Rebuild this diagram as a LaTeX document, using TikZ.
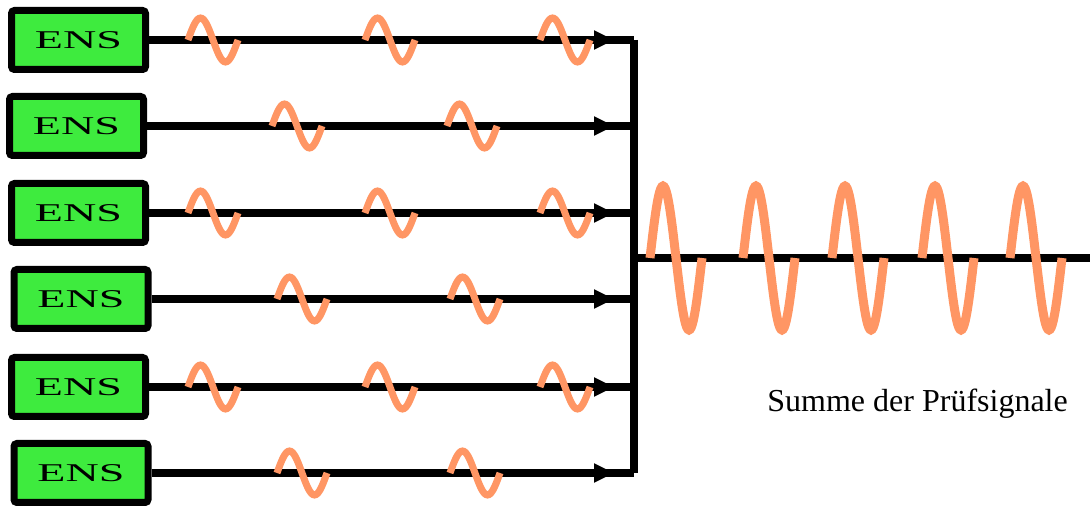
\documentclass[tikz,border=0pt]{standalone}
\usepackage{fontspec}
\setmainfont{Liberation Serif}
\usetikzlibrary{arrows.meta}
\definecolor{ensgreen}{RGB}{62,235,62}
\definecolor{wavecol}{RGB}{255,150,100}

\begin{document}
\begin{tikzpicture}[x=0.5pt,y=-0.5pt,
  ens/.style={rectangle, draw, line width=3.5pt, fill=ensgreen, rounded corners=1.5pt, minimum width=67pt, minimum height=29.5pt, inner sep=0pt, font=\fontsize{12.8}{14}\selectfont},
  wire/.style={line width=3.6pt},
  sig/.style={wire, -{Triangle[length=10pt,width=9pt]}},
  wavy/.style={draw=wavecol, line width=3.5pt},
  bigwavy/.style={draw=wavecol, line width=4.5pt}]
\useasboundingbox (0,0) rectangle (1090,506);

% sender boxes and their lines
\foreach \i/\x/\y in {1/78.5/40,2/76.5/126,3/78.5/213,4/81/299,5/78.5/387,6/81/473}{
  \node[ens] (ens\i) at (\x,\y) {\scalebox{1.8}[1]{ENS}};
  \coordinate (tip\i) at (614,\y);
  \coordinate (bus\i) at (634,\y);
  \draw[wire] (ens\i) -- (bus\i);
  \draw[sig] (ens\i) -- (tip\i);
}

% summing bus and output
\coordinate (sum) at (634,258);
\coordinate (out) at (1090,258);
\draw[wire] (bus1) -- (bus6);
\draw[wire] (sum) -- (out);

% test signals
\foreach \y/\xs in {40/{188,365,540},213/{188,365,540},387/{188,365,540},126/{272,447},299/{277,450},473/{277,450}}
  \foreach \x in \xs
    \draw[wavy, variable=\t, domain=0:360, samples=37] plot ({\x+\t/360*50},{\y-22*sin(\t)});

% sum signal
\foreach \x in {650,743,832,922,1010}
  \draw[bigwavy, variable=\t, domain=0:360, samples=49] plot ({\x+\t/360*52},{258-72*sin(\t)});

\node[anchor=base west, inner sep=0pt, font=\fontsize{16}{19}\selectfont] (label) at (767,412) {Summe der Prüfsignale};
\end{tikzpicture}
\end{document}
